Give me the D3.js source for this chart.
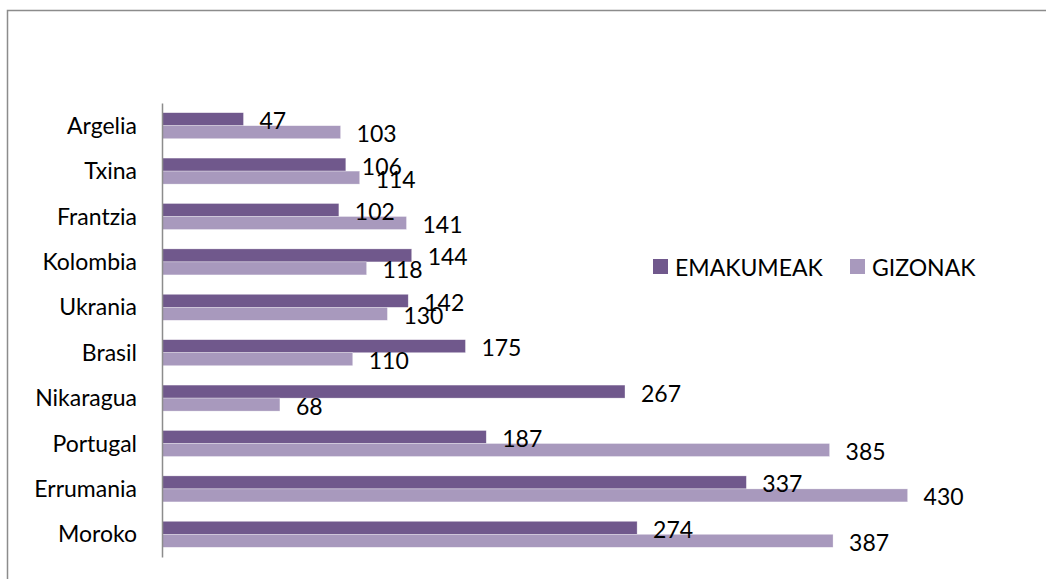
<!DOCTYPE html>
<html>
<head>
<meta charset="utf-8">
<script src="https://cdn.jsdelivr.net/npm/d3@7"></script>
<style>
  body { margin: 0; background: #fff; }
  text { font-family: Lato, "Open Sans", sans-serif; fill: #000; }
  .y-axis .domain { stroke: #8c8c8c; stroke-width: 1.5; }
</style>
</head>
<body>
<div id="chart"></div>
<script>
// countries, top to bottom
const countries = ["Argelia", "Txina", "Frantzia", "Kolombia", "Ukrania", "Brasil", "Nikaragua", "Portugal", "Errumania", "Moroko"];
const seriesNames = ["EMAKUMEAK", "GIZONAK"];
const emakumeak = [47, 106, 102, 144, 142, 175, 267, 187, 337, 274];
const gizonak = [103, 114, 141, 118, 130, 110, 68, 385, 430, 387];
const colors = ["#70588c", "#a899bd"];

const width = 1046, height = 579;
const margin = { top: 103, right: 17, bottom: 22, left: 162 };
const fontSize = "23px";

const rows = countries.map((c, i) => ({ country: c, values: [emakumeak[i], gizonak[i]] }));

const svg = d3.select("#chart").append("svg")
  .attr("width", width)
  .attr("height", height);

// chart border (only top and left visible in the frame)
svg.append("path")
  .attr("d", `M7.5,${height} V10.5 H${width}`)
  .attr("fill", "none")
  .attr("stroke", "#8c8c8c")
  .attr("stroke-width", 1.5);

const xScale = d3.scaleLinear().domain([0, 500]).range([margin.left, width - margin.right]);
const yScale = d3.scaleBand().domain(countries).range([margin.top, height - margin.bottom]).padding(0);
const ySub = d3.scaleBand().domain(seriesNames).range([0, yScale.bandwidth()]).paddingInner(0).paddingOuter(0.746);

//=========================== BARS ===========================
const groups = svg.selectAll(".group")
  .data(rows)
  .enter()
  .append("g")
  .attr("class", "group")
  .attr("transform", d => `translate(0,${yScale(d.country)})`);

groups.selectAll("rect")
  .data(d => d.values.map((v, k) => ({ key: seriesNames[k], value: v, k })))
  .enter()
  .append("rect")
  .attr("x", xScale(0))
  .attr("y", d => ySub(d.key))
  .attr("width", d => xScale(d.value) - xScale(0))
  .attr("height", ySub.bandwidth())
  .attr("fill", d => colors[d.k])
  .attr("stroke", "#ffffff")
  .attr("stroke-opacity", 0.5)
  .attr("stroke-width", 0.6);

// data labels
groups.selectAll(".label")
  .data(d => d.values.map((v, k) => ({ key: seriesNames[k], value: v })))
  .enter()
  .append("text")
  .attr("class", "label")
  .attr("x", d => xScale(d.value) + 16)
  .attr("y", d => ySub(d.key) + ySub.bandwidth() / 2 + 1)
  .attr("dominant-baseline", "central")
  .style("font-size", fontSize)
  .text(d => d.value);

//=========================== AXIS ===========================
svg.append("g")
  .attr("class", "y-axis")
  .attr("transform", `translate(${margin.left},0)`)
  .call(d3.axisLeft(yScale).tickSize(0).tickPadding(25).tickSizeOuter(0))
  .call(g => g.selectAll("text").style("font-size", fontSize).attr("dy", "0.35em"));

//=========================== LEGEND ===========================
const legendX = [653, 850];
const legend = svg.selectAll(".legend")
  .data(seriesNames)
  .enter()
  .append("g")
  .attr("class", "legend")
  .attr("transform", (d, i) => `translate(${legendX[i]},259)`);

legend.append("rect")
  .attr("width", 15)
  .attr("height", 15)
  .attr("fill", (d, i) => colors[i]);

legend.append("text")
  .attr("x", 22)
  .attr("y", 8)
  .attr("dominant-baseline", "central")
  .style("font-size", fontSize)
  .text(d => d);
</script>
</body>
</html>
